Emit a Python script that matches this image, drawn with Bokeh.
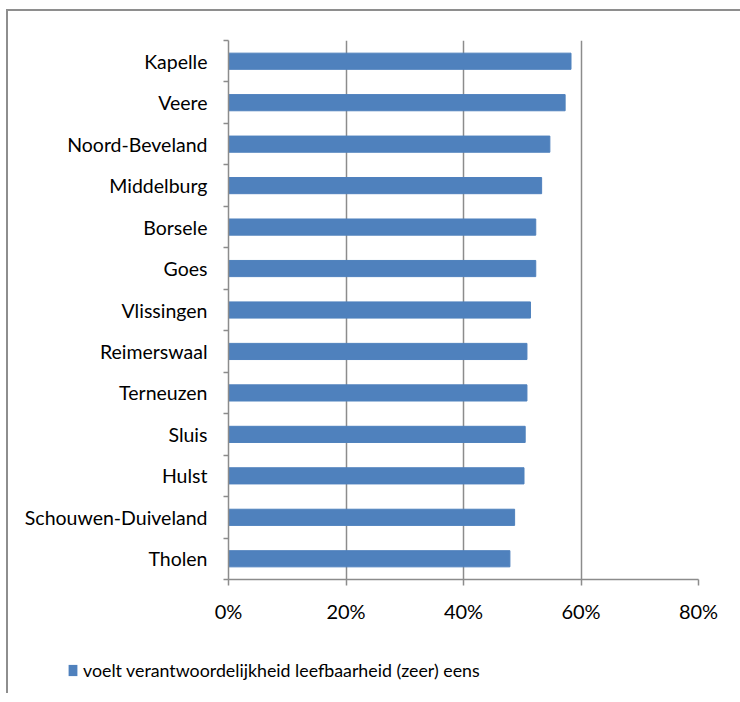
from bokeh.plotting import figure
from bokeh.layouts import column
from bokeh.models import (Range1d, FixedTicker, Legend, LegendItem, ColumnDataSource,
                          CDSView, IndexFilter)
from bokeh.embed import file_html
from bokeh.resources import INLINE

municipalities = ["Kapelle", "Veere", "Noord-Beveland", "Middelburg", "Borsele", "Goes",
                  "Vlissingen", "Reimerswaal", "Terneuzen", "Sluis", "Hulst",
                  "Schouwen-Duiveland", "Tholen"]
share_agree = [0.583, 0.573, 0.547, 0.533, 0.523, 0.523, 0.514, 0.508, 0.508, 0.505,
               0.503, 0.487, 0.479]
x_ticks = [0.0, 0.2, 0.4, 0.6, 0.8]
x_tick_labels = ["0%", "20%", "40%", "60%", "80%"]
series_name = "voelt verantwoordelijkheid leefbaarheid (zeer) eens"

n = len(municipalities)
ys = [n - i - 0.5 for i in range(n)]
src = ColumnDataSource(dict(y=ys, v=share_agree, name=municipalities))

FONT = "Lato"
GRAY = "#8c8c8c"
BAR = "#4F81BD"

p = figure(width=732, height=622, x_range=Range1d(0, x_ticks[-1]), y_range=Range1d(0, n),
           output_backend="svg", toolbar_location=None,
           min_border_left=220, min_border_right=42, min_border_top=29, min_border_bottom=54)
p.frame_align = False
p.outline_line_color = None
p.background_fill_color = "white"
p.border_fill_color = "white"

r = p.hbar(y="y", right="v", left=0, height=0.39, source=src,
           fill_color=BAR, line_color=BAR, line_width=1)

# x axis / grid
p.xgrid.ticker = FixedTicker(ticks=x_ticks)
p.xgrid.grid_line_color = GRAY
p.xgrid.grid_line_width = 1.5
p.ygrid.grid_line_color = None
xa = p.xaxis[0]
xa.ticker = FixedTicker(ticks=x_ticks)
xa.major_label_overrides = dict(zip(x_ticks, x_tick_labels))
xa.axis_line_color = GRAY
xa.axis_line_width = 1.5
xa.major_tick_line_color = GRAY
xa.major_tick_line_width = 1.5
xa.major_tick_out = 6
xa.major_tick_in = 0
xa.minor_tick_line_color = None
xa.major_label_text_font = FONT
xa.major_label_text_font_size = "20px"
xa.major_label_text_color = "black"
xa.major_label_standoff = 13

# y axis
ya = p.yaxis[0]
ya.ticker = FixedTicker(ticks=ys, minor_ticks=list(range(n + 1)))
ya.major_label_overrides = dict(zip(ys, municipalities))
ya.axis_line_color = GRAY
ya.axis_line_width = 1.5
ya.major_tick_out = 0
ya.major_tick_in = 0
ya.minor_tick_out = 5
ya.minor_tick_in = 0
ya.minor_tick_line_color = GRAY
ya.minor_tick_line_width = 1.5
ya.major_label_text_font = FONT
ya.major_label_text_font_size = "19.5px"
ya.major_label_text_color = "black"
ya.major_label_standoff = 16

# legend strip below the chart: a key-only proxy renderer (zero height, outside the view)
pl = figure(width=732, height=60, x_range=Range1d(2, 3), y_range=Range1d(0, n),
            output_backend="svg", toolbar_location=None,
            x_axis_type=None, y_axis_type=None,
            min_border_left=0, min_border_right=0, min_border_top=0, min_border_bottom=0)
pl.frame_align = False
pl.outline_line_color = None
pl.background_fill_color = "white"
pl.border_fill_color = "white"
rl = pl.hbar(y="y", right="v", left=0, height=0, source=src,
             view=CDSView(filter=IndexFilter([0])),
             fill_color=BAR, line_color=None)
legend = Legend(items=[LegendItem(label=series_name, renderers=[rl])],
                location=(59, 12), orientation="horizontal",
                border_line_color=None, background_fill_alpha=0,
                glyph_width=11, glyph_height=14, label_standoff=5,
                label_text_font=FONT, label_text_font_size="17.8px", label_text_color="black",
                padding=0, margin=0)
pl.add_layout(legend, "center")

layout = column(p, pl, spacing=0)
layout.margin = (9, 0, 0, 6)
layout.styles = {"border-left": "2px solid #8e8e8e", "border-top": "2px solid #8e8e8e"}

open("out.html", "w").write(file_html(layout, INLINE))
